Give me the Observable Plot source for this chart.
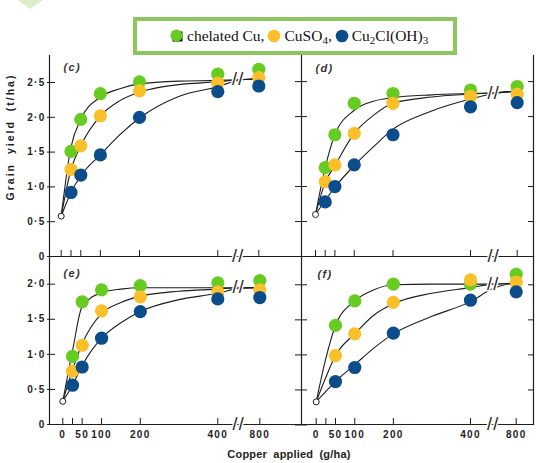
<!DOCTYPE html>
<html>
<head>
<meta charset="utf-8">
<script src="https://cdn.jsdelivr.net/npm/d3@7"></script>
<script src="https://cdn.jsdelivr.net/npm/@observablehq/plot@0.6"></script>
<style>
  html, body { margin: 0; padding: 0; background: #fff; }
  #chart { position: relative; width: 555px; height: 463px; overflow: hidden; font-family: "Liberation Sans", Arial, sans-serif; }
  #chart svg.panel { position: absolute; left: 0; top: 0; }
  #chart svg.panel text { letter-spacing: 1.3px; }
  #chart svg.panel g[aria-label="text"] text.brk { letter-spacing: 0; }
  #legend { position: absolute; left: 133px; top: 17px; width: 324px; height: 38px; box-sizing: border-box;
            border: 4px solid #8cc65c; background: #fff; display: flex; align-items: center; padding-left: 33px;
            font-family: "Liberation Serif", "Times New Roman", serif; font-size: 15.5px; color: #111; white-space: nowrap; }
  #legend .item { display: flex; align-items: center; margin-right: 3px; }
  #legend svg { margin-right: 3px; }
  #legend sub { font-size: 11px; vertical-align: -3px; line-height: 0; }
  #ylab { position: absolute; left: 10px; top: 137px; transform-origin: 0 0; transform: rotate(-90deg) translate(-50%, -50%);
          white-space: nowrap; font: bold 10.5px "Liberation Sans", Arial, sans-serif; letter-spacing: 2px; word-spacing: 4px; color: #1e1e1e; }
  #xlab { position: absolute; left: 289px; top: 454px; transform: translate(-50%, -50%); white-space: nowrap;
          font: bold 11px "Liberation Sans", Arial, sans-serif; letter-spacing: 0.2px; word-spacing: 3px; color: #1e1e1e; }
  #deco { position: absolute; left: 0; top: 0; }
</style>
</head>
<body>
<div id="chart">
  <svg id="deco" width="60" height="14"><polygon points="18,0 43,0 30,9" fill="#dcedc8"></polygon></svg>
  <div id="legend"></div>
  <div id="ylab">Grain yield (t/ha)</div>
  <div id="xlab">Copper applied (g/ha)</div>
</div>
<script>
// ---------------- data ----------------
const sources = ["chelated Cu", "CuSO4", "Cu2Cl(OH)3"];
const legendLabels = ["chelated Cu,", "CuSO<sub>4</sub>,", "Cu<sub>2</sub>Cl(OH)<sub>3</sub>"];
const colors = ["#66cc22", "#fbbf2a", "#0b4d8a"];

const panelNames = ["(c)", "(d)", "(e)", "(f)"];

const tickDoses = [0, 25, 50, 100, 200, 400, 800];
const tickDoseLabels = ["0", "", "50", "100", "200", "400", "800"];
const yTicksTop = [0, 0.5, 1, 1.5, 2, 2.5];
const yTicksBottom = [0, 0.5, 1, 1.5, 2];
const breakAt = 600; // position of the "//" axis break, between 400 and 800

// control (no copper) yields, open circle at 0 g/ha
const controlYield = [0.58, 0.60, 0.33, 0.33];

// measured yields (t/ha)
const dosesCDE = [25, 50, 100, 200, 400, 800];
const dosesF = [50, 100, 200, 400, 800];

const chelatedC = [1.51, 1.97, 2.34, 2.51, 2.62, 2.69];
const cuso4C    = [1.25, 1.59, 2.02, 2.38, 2.49, 2.57];
const oxyC      = [0.92, 1.17, 1.46, 2.00, 2.37, 2.45];

const chelatedD = [1.27, 1.74, 2.19, 2.33, 2.38, 2.43];
const cuso4D    = [1.07, 1.31, 1.76, 2.19, 2.29, 2.32];
const oxyD      = [0.78, 1.00, 1.31, 1.74, 2.14, 2.20];

const chelatedE = [0.97, 1.75, 1.92, 1.98, 2.02, 2.05];
const cuso4E    = [0.76, 1.13, 1.62, 1.82, 1.89, 1.92];
const oxyE      = [0.56, 0.82, 1.23, 1.61, 1.79, 1.81];

const chelatedF = [1.42, 1.77, 2.01, 2.01, 2.15];
const cuso4F    = [0.99, 1.30, 1.75, 2.07, 2.04];
const oxyF      = [0.62, 0.82, 1.31, 1.78, 1.90];

// fitted response curves
const curveDoses = [0, 25, 50, 100, 150, 200, 300, 400, 600, 760];
const curveChelatedC = [0.58, 1.57, 1.97, 2.29, 2.41, 2.48, 2.52, 2.53, 2.54, 2.55];
const curveCuso4C    = [0.58, 1.25, 1.59, 2.02, 2.24, 2.36, 2.47, 2.51, 2.54, 2.55];
const curveOxyC      = [0.58, 0.92, 1.16, 1.46, 1.75, 1.99, 2.30, 2.44, 2.53, 2.55];

const curveChelatedD = [0.60, 1.27, 1.74, 2.09, 2.22, 2.27, 2.31, 2.33, 2.34, 2.36];
const curveCuso4D    = [0.60, 1.06, 1.30, 1.76, 2.02, 2.19, 2.28, 2.32, 2.34, 2.36];
const curveOxyD      = [0.60, 0.80, 0.99, 1.30, 1.57, 1.82, 2.08, 2.25, 2.33, 2.36];

const curveChelatedE = [0.33, 1.05, 1.68, 1.88, 1.93, 1.95, 1.95, 1.95, 1.95, 1.95];
const curveCuso4E    = [0.33, 0.78, 1.15, 1.58, 1.74, 1.83, 1.90, 1.93, 1.95, 1.95];
const curveOxyE      = [0.33, 0.56, 0.84, 1.23, 1.45, 1.61, 1.78, 1.87, 1.94, 1.95];

const curveChelatedF = [0.33, 0.95, 1.42, 1.77, 1.93, 2.00, 2.01, 2.01, 2.01, 2.02];
const curveCuso4F    = [0.33, 0.68, 0.99, 1.30, 1.57, 1.73, 1.88, 1.96, 2.01, 2.02];
const curveOxyF      = [0.33, 0.48, 0.62, 0.86, 1.10, 1.30, 1.55, 1.76, 1.95, 2.02];

// levels where the curves cross the axis break
const breakLevels = [2.54, 2.34, 1.95, 2.01];

// ---------------- build tables ----------------
const pointSets = [
  [dosesCDE, [chelatedC, cuso4C, oxyC]],
  [dosesCDE, [chelatedD, cuso4D, oxyD]],
  [dosesCDE, [chelatedE, cuso4E, oxyE]],
  [dosesF,   [chelatedF, cuso4F, oxyF]]
];
const curveSets = [
  [curveChelatedC, curveCuso4C, curveOxyC],
  [curveChelatedD, curveCuso4D, curveOxyD],
  [curveChelatedE, curveCuso4E, curveOxyE],
  [curveChelatedF, curveCuso4F, curveOxyF]
];

// ---------------- layout (page pixels) ----------------
const W = 555, H = 463;
const layout = [
  {frame: [49, 301, 55, 256],  xr: [60.7, 217.3, 258.3], yr: [256, 82],    ymax: 2.5, yt: yTicksTop,    left: true,  right: false, bottomLabels: false, lx: 14, ly: 8},
  {frame: [301, 533, 55, 256], xr: [315, 470, 516.7],    yr: [256, 81.1],  ymax: 2.5, yt: yTicksTop,    left: false, right: true,  bottomLabels: false, lx: 14, ly: 9},
  {frame: [49, 301, 256, 424], xr: [62.3, 217.3, 259.3], yr: [424, 283.7], ymax: 2,   yt: yTicksBottom, left: true,  right: false, bottomLabels: true,  lx: 14, ly: 13},
  {frame: [301, 533, 256, 424],xr: [315.7, 470, 515.7],  yr: [424.5, 284.3], ymax: 2, yt: yTicksBottom, left: false, right: true,  bottomLabels: true,  lx: 16, ly: 14}
];

const ink = "#1e1e1e";
const fmtY = d => d === 0 ? "0" : d.toFixed(1).replace(".", "·");

const chart = document.getElementById("chart");

layout.forEach((L, i) => {
  const [doses, series] = pointSets[i];
  const points = [];
  series.forEach((vals, s) => vals.forEach((v, k) => points.push({dose: doses[k], yield: v, source: sources[s]})));
  const curves = [];
  curveSets[i].forEach((vals, s) => vals.forEach((v, k) => curves.push({dose: curveDoses[k], yield: v, source: sources[s]})));

  const marks = [
    // frame
    Plot.frame({anchor: "left", stroke: ink, strokeWidth: 1.2}),
    Plot.frame({anchor: "bottom", stroke: ink, strokeWidth: 1.2}),
    L.right ? Plot.frame({anchor: "right", stroke: ink, strokeWidth: 1.2}) : null,
    // y ticks on the left axis (crossing for right panels)
    Plot.axisY(L.yt, {anchor: "left", tickSize: L.left ? 8 : 12, dx: 6, fill: "none", stroke: ink, label: null}),
    L.left ? Plot.axisY(L.yt, {anchor: "left", tickSize: 0, tickPadding: 4, stroke: "none", fill: ink, tickFormat: fmtY, fontSize: 10, fontWeight: "bold", label: null}) : null,
    L.right ? Plot.axisY(L.yt.filter(d => d > 0), {anchor: "right", tickSize: 6, dx: -6, fill: "none", stroke: ink, label: null}) : null,
    // x ticks (inward)
    Plot.axisX(tickDoses, {anchor: "bottom", tickSize: 6, dy: -6, fill: "none", stroke: ink, label: null}),
    L.bottomLabels ? Plot.axisX(tickDoses, {anchor: "bottom", tickSize: 0, tickPadding: 6, stroke: "none", fill: ink,
      tickFormat: d => tickDoseLabels[tickDoses.indexOf(d)], fontSize: 10, fontWeight: "bold", label: null}) : null,
    // response curves
    Plot.line(curves, {x: "dose", y: "yield", z: "source", stroke: ink, strokeWidth: 1.1, curve: "monotone-x"}),
    // break marks on curves and on x axis
    Plot.text([breakLevels[i]], {x: breakAt, y: d => d, text: () => "//", fontSize: 18, fontWeight: "normal",
      lineAnchor: "middle", fill: ink, stroke: "white", strokeWidth: 3}),
    Plot.text([breakAt], {x: d => d, frameAnchor: "bottom", lineAnchor: "middle", text: () => "//", fontSize: 18,
      fontWeight: "normal", fill: ink, stroke: "white", strokeWidth: 3}),
    // data points
    Plot.dot(points, {x: "dose", y: "yield", fill: "source", r: 6.6, stroke: "none"}),
    Plot.dot([controlYield[i]], {x: 0, y: d => d, r: 3, fill: "white", stroke: ink, strokeWidth: 1}),
    // panel label
    Plot.text([panelNames[i]], {frameAnchor: "top-left", dx: L.lx, dy: L.ly, fontStyle: "italic", fontWeight: "bold",
      fontSize: 11, fill: "#333"})
  ];

  const svg = Plot.plot({
    width: W, height: H,
    marginLeft: L.frame[0], marginRight: W - L.frame[1], marginTop: L.frame[2], marginBottom: H - L.frame[3],
    className: "panel",
    style: {background: "transparent", overflow: "visible", fontFamily: "'Liberation Sans', Arial, sans-serif", color: ink},
    x: {type: "linear", domain: [0, 400, 800], range: L.xr, label: null},
    y: {type: "linear", domain: [0, L.ymax], range: L.yr, label: null},
    color: {domain: sources, range: colors},
    marks: marks.filter(Boolean)
  });
  svg.classList.add("panel");
  svg.style.position = "absolute";
  svg.style.left = "0px";
  svg.style.top = "0px";
  chart.appendChild(svg);
});

// legend (above the panels)
const legend = document.getElementById("legend");
legendLabels.forEach((lab, s) => {
  const item = document.createElement("span");
  item.className = "item";
  const marker = s === 0
    ? `<svg width="14" height="14" viewBox="0 0 14 14"><rect x="2.5" y="2.5" width="10" height="10" fill="#111"></rect><circle cx="6.5" cy="6.5" r="6" fill="${colors[s]}"></circle></svg>`
    : `<svg width="14" height="14" viewBox="0 0 14 14"><circle cx="7" cy="7" r="6.3" fill="${colors[s]}"></circle></svg>`;
  item.innerHTML = marker + `<span>${lab}</span>`;
  legend.appendChild(item);
});
</script>
</body>
</html>
